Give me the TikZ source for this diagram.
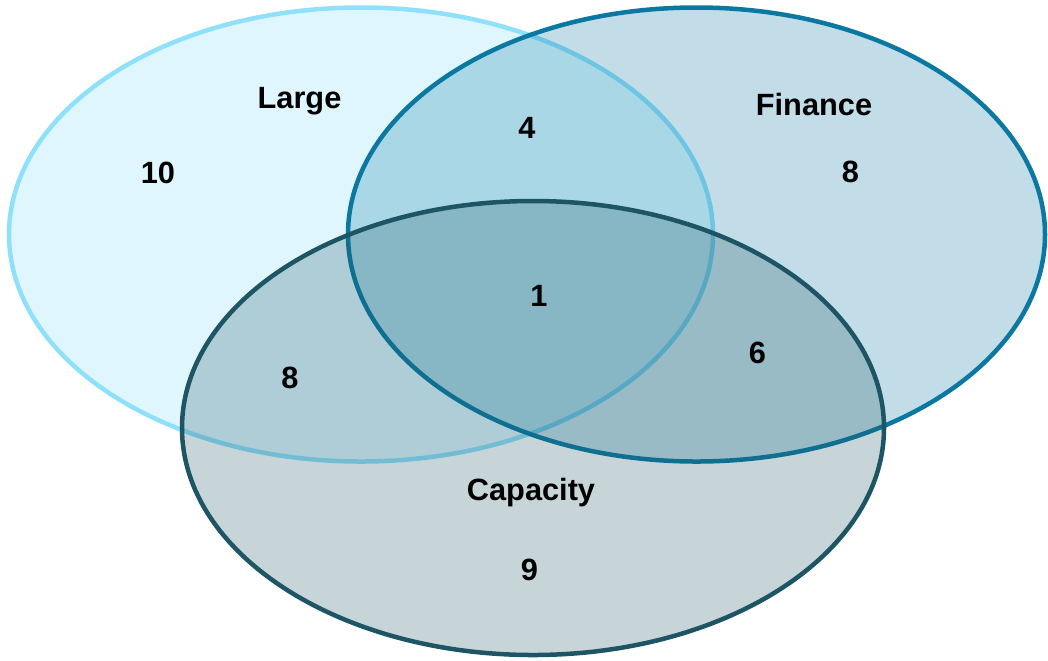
\documentclass[tikz,border=0pt]{standalone}
\usepackage{fontspec}
\setsansfont{Liberation Sans}
\usetikzlibrary{shapes.geometric}

\definecolor{largec}{HTML}{8FE0FA}
\definecolor{financec}{HTML}{0A78A0}
\definecolor{capacityc}{HTML}{1E5564}

\begin{document}
\begin{tikzpicture}[x=0.2mm,y=-0.2mm,font=\sffamily\bfseries\fontsize{17.5}{21}\selectfont,
venn/.style={ellipse,draw=#1,fill=#1,fill opacity=0.25,line width=0.9mm,inner sep=0pt,minimum height=90.8mm},
lbl/.style={anchor=base}]
\useasboundingbox (0,0) rectangle (1048,660);
% the three sets
\node[venn=largec,fill opacity=0.28,minimum width=140.8mm] (l) at (361,234.5) {};
\node[venn=financec,minimum width=139.4mm] (f) at (696.5,234.5) {};
\node[venn=capacityc,minimum width=140.4mm] (c) at (533,428) {};
% set names
\node[lbl] (lname) at (299.5,108) {Large};
\node[lbl] (fname) at (814,115) {Finance};
\node[lbl] (cname) at (531,500.5) {Capacity};
% counts per region
\node[lbl] (nl) at (158,183) {10};
\node[lbl] (nf) at (850.5,182) {8};
\node[lbl] (nc) at (529.5,580) {9};
\node[lbl] (nlf) at (527,138) {4};
\node[lbl] (nlc) at (290,388) {8};
\node[lbl] (nfc) at (757.5,363) {6};
\node[lbl] (nlfc) at (539,306) {1};
\end{tikzpicture}
\end{document}
